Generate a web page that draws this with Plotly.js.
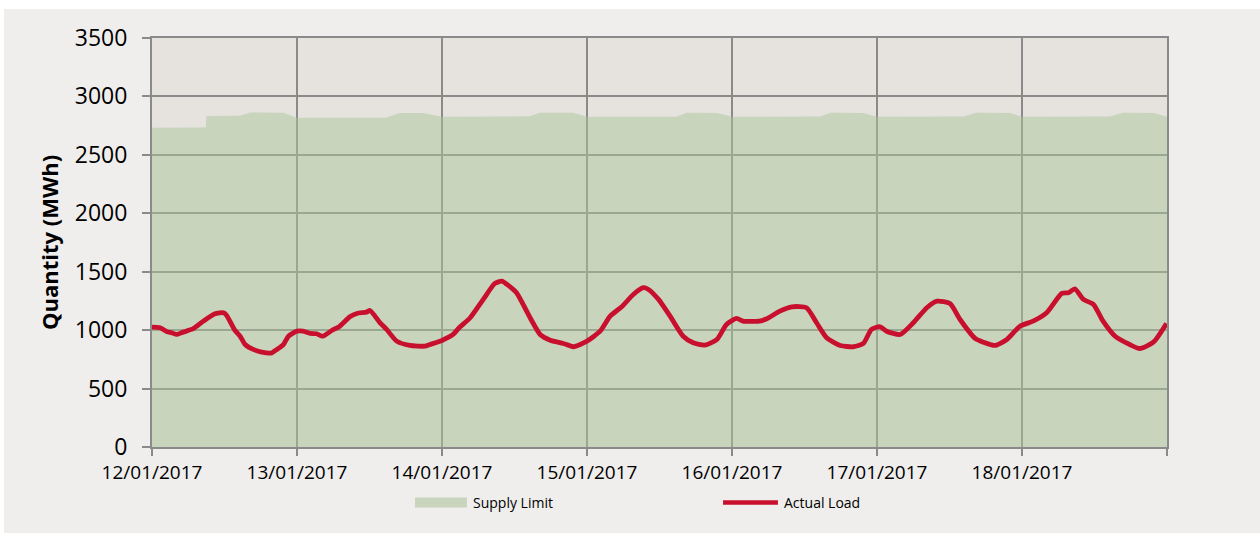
<!DOCTYPE html>
<html>
<head>
<meta charset="utf-8">
<script src="https://cdn.plot.ly/plotly-3.0.1.min.js"></script>
<style>
  html, body { margin: 0; padding: 0; background: #ffffff; width: 1260px; height: 533px; overflow: hidden; }
  #chart { position: absolute; left: 4px; top: 9px; width: 1256px; height: 524px; }
</style>
</head>
<body>
<div id="chart"></div>
<script>
// ---- Data ----
const supplyTimes = [
  "2017-01-12 00:00","2017-01-12 08:55","2017-01-12 09:00","2017-01-12 14:35","2017-01-12 16:15","2017-01-12 21:45",
  "2017-01-13 00:00","2017-01-13 14:40","2017-01-13 17:00","2017-01-13 20:50",
  "2017-01-14 00:00","2017-01-14 14:30","2017-01-14 16:15","2017-01-14 21:40",
  "2017-01-15 00:00","2017-01-15 14:50","2017-01-15 16:30","2017-01-15 21:30",
  "2017-01-16 00:00","2017-01-16 14:35","2017-01-16 16:20","2017-01-16 21:45",
  "2017-01-17 00:00","2017-01-17 14:20","2017-01-17 16:30","2017-01-17 22:00",
  "2017-01-18 00:00","2017-01-18 14:35","2017-01-18 16:40","2017-01-18 21:45",
  "2017-01-19 00:00"
];
const supplyLimit = [
  2732, 2735, 2832, 2835, 2862, 2860,
  2818, 2818, 2858, 2858,
  2826, 2830, 2860, 2860,
  2826, 2826, 2860, 2858,
  2826, 2828, 2860, 2858,
  2826, 2828, 2860, 2858,
  2826, 2828, 2860, 2858,
  2826
];

const loadTimes = [
  "2017-01-12 00:00","2017-01-12 01:20","2017-01-12 02:30","2017-01-12 03:15","2017-01-12 04:05","2017-01-12 05:10","2017-01-12 06:50","2017-01-12 08:30","2017-01-12 10:25","2017-01-12 11:50","2017-01-12 12:20","2017-01-12 13:45","2017-01-12 14:35","2017-01-12 15:25","2017-01-12 16:45","2017-01-12 18:10","2017-01-12 19:50","2017-01-12 20:40","2017-01-12 21:45","2017-01-12 22:35",
  "2017-01-13 00:00","2017-01-13 01:00","2017-01-13 02:10","2017-01-13 03:15","2017-01-13 04:15","2017-01-13 05:45","2017-01-13 07:05","2017-01-13 08:45","2017-01-13 09:55","2017-01-13 11:30","2017-01-13 12:05","2017-01-13 13:45","2017-01-13 14:50","2017-01-13 16:30","2017-01-13 18:40","2017-01-13 21:10","2017-01-13 22:00",
  "2017-01-14 00:00","2017-01-14 01:50","2017-01-14 02:50","2017-01-14 04:40","2017-01-14 06:50","2017-01-14 08:45","2017-01-14 09:55","2017-01-14 10:45","2017-01-14 12:20","2017-01-14 14:35","2017-01-14 16:15","2017-01-14 17:55","2017-01-14 20:05","2017-01-14 21:45",
  "2017-01-15 00:00","2017-01-15 02:10","2017-01-15 03:50","2017-01-15 05:45","2017-01-15 07:40","2017-01-15 09:20","2017-01-15 10:10","2017-01-15 11:50","2017-01-15 13:45","2017-01-15 15:55","2017-01-15 17:35","2017-01-15 19:30","2017-01-15 21:30","2017-01-15 23:05",
  "2017-01-16 00:45","2017-01-16 01:50","2017-01-16 04:30","2017-01-16 05:45","2017-01-16 07:55","2017-01-16 09:55","2017-01-16 12:20","2017-01-16 14:00","2017-01-16 15:40","2017-01-16 17:55","2017-01-16 20:05","2017-01-16 21:45","2017-01-16 23:05",
  "2017-01-17 00:30","2017-01-17 01:35","2017-01-17 03:50","2017-01-17 06:00","2017-01-17 08:15","2017-01-17 09:55","2017-01-17 12:05","2017-01-17 13:45","2017-01-17 16:15","2017-01-17 17:35","2017-01-17 19:30","2017-01-17 21:30","2017-01-17 23:40",
  "2017-01-18 01:50","2017-01-18 04:05","2017-01-18 06:35","2017-01-18 07:40","2017-01-18 08:45","2017-01-18 10:10","2017-01-18 11:50","2017-01-18 13:25","2017-01-18 15:25","2017-01-18 17:50","2017-01-18 19:30","2017-01-18 21:45","2017-01-18 23:55"
];
const actualLoad = [
  1025, 1020, 986, 978, 963, 983, 1012, 1077, 1140, 1149, 1128, 997, 948, 877, 835, 812, 806, 835, 877, 948,
  991, 991, 972, 969, 948, 997, 1034, 1114, 1143, 1154, 1168, 1063, 1006, 906, 869, 863, 877,
  912, 963, 1020, 1106, 1263, 1400, 1419, 1391, 1320, 1106, 963, 914, 886, 858,
  906, 991, 1120, 1200, 1305, 1363, 1348, 1263, 1120, 948, 892, 872, 920, 1049,
  1100, 1077, 1077, 1097, 1163, 1200, 1192, 1063, 935, 869, 858, 886, 1006,
  1029, 991, 963, 1063, 1192, 1248, 1228, 1091, 929, 897, 869, 920, 1034,
  1077, 1149, 1314, 1320, 1354, 1263, 1220, 1077, 948, 877, 843, 897, 1057
];

const dayTicks = ["2017-01-12","2017-01-13","2017-01-14","2017-01-15","2017-01-16","2017-01-17","2017-01-18","2017-01-19"];
const dayLabels = ["12/01/2017","13/01/2017","14/01/2017","15/01/2017","16/01/2017","17/01/2017","18/01/2017",""];
const seriesNames = ["Supply Limit", "Actual Load"];

// ---- Styles ----
const FONT = "Open Sans, Liberation Sans, sans-serif";
const GRID = "#8a8a8a";
const RED = "#c8102e";
const FILL_SWATCH = "#c8d4bc";

const traces = [
  {
    x: supplyTimes, y: supplyLimit, name: seriesNames[0], type: "scatter", mode: "lines",
    fill: "tozeroy", fillcolor: "rgba(170,197,153,0.5)", line: { width: 0, color: "rgba(0,0,0,0)" },
    showlegend: false, hoverinfo: "x+y"
  },
  {
    x: loadTimes, y: actualLoad, name: seriesNames[1], type: "scatter", mode: "lines",
    line: { color: RED, width: 4.8, shape: "spline", smoothing: 0.6 },
    showlegend: false
  }
];

// legend drawn with paper-referenced shapes + annotations
const layout = {
  width: 1256, height: 524,
  margin: { l: 148, r: 93, t: 29, b: 86 },
  paper_bgcolor: "#efeeec",
  plot_bgcolor: "#e6e3df",
  font: { family: FONT, color: "#000" },
  showlegend: false,
  xaxis: {
    type: "date",
    range: ["2017-01-12", "2017-01-19"],
    tickmode: "array", tickvals: dayTicks, ticktext: dayLabels,
    ticks: "outside", ticklen: 7, tickwidth: 2, tickcolor: GRID,
    showgrid: true, gridcolor: GRID, gridwidth: 2,
    showline: true, linecolor: GRID, linewidth: 2, mirror: true,
    zeroline: false,
    tickfont: { family: FONT, size: 19, color: "#000" }
  },
  yaxis: {
    range: [0, 3500], dtick: 500, tick0: 0,
    ticks: "outside", ticklen: 8, tickwidth: 2, tickcolor: GRID,
    showgrid: true, gridcolor: GRID, gridwidth: 2,
    showline: true, linecolor: GRID, linewidth: 2, mirror: true,
    zeroline: false,
    ticklabelstandoff: 10,
    tickfont: { family: FONT, size: 23, color: "#000" },
    title: { text: "Quantity (MWh)", font: { family: FONT, size: 22, color: "#000", weight: "bold" }, standoff: 10 }
  },
  shapes: [
    { type: "rect", xref: "paper", yref: "paper", x0: 0.2591, x1: 0.3103, y0: -0.1235, y1: -0.148,
      fillcolor: FILL_SWATCH, line: { width: 0 } },
    { type: "line", xref: "paper", yref: "paper", x0: 0.5626, x1: 0.6167, y0: -0.1357, y1: -0.1357,
      line: { color: RED, width: 4.5 } }
  ],
  annotations: [
    { xref: "paper", yref: "paper", x: 0.3143, y: -0.1357, xanchor: "left", yanchor: "middle",
      text: seriesNames[0], showarrow: false, font: { family: FONT, size: 14, color: "#000" } },
    { xref: "paper", yref: "paper", x: 0.6207, y: -0.1357, xanchor: "left", yanchor: "middle",
      text: seriesNames[1], showarrow: false, font: { family: FONT, size: 14, color: "#000" } }
  ]
};

Plotly.newPlot("chart", traces, layout, { staticPlot: true, displayModeBar: false });
</script>
</body>
</html>
